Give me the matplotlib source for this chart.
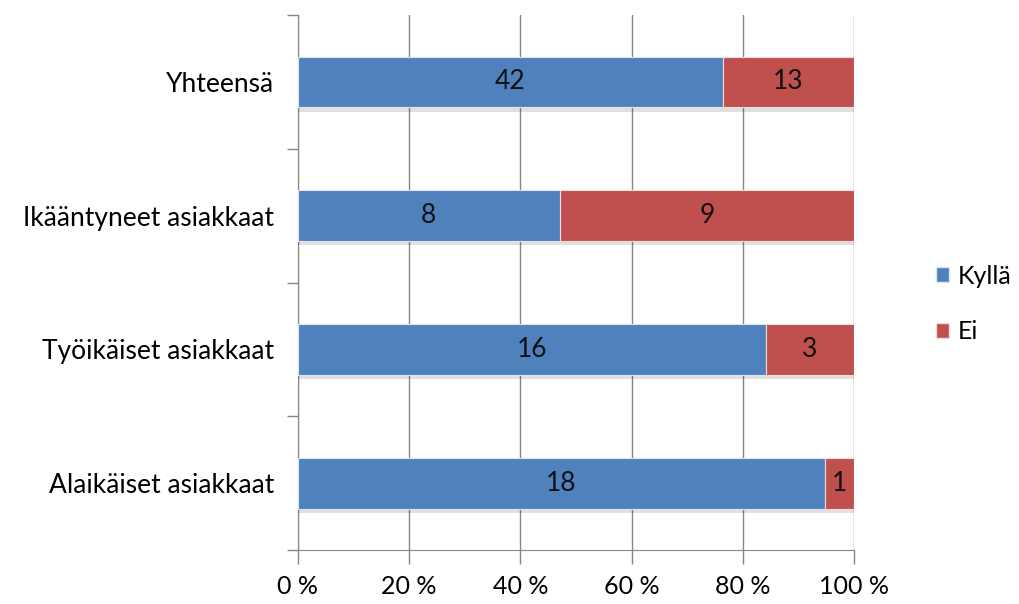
import matplotlib.pyplot as plt
import matplotlib.patheffects as pe
from matplotlib.patches import Patch
import numpy as np

categories = ['Alaikäiset asiakkaat', 'Työikäiset asiakkaat', 'Ikääntyneet asiakkaat', 'Yhteensä']
kylla = [18, 16, 8, 42]
ei = [1, 3, 9, 13]
series_names = ['Kyllä', 'Ei']
tick_labels = ['0 %', '20 %', '40 %', '60 %', '80 %', '100 %']

blue = '#4F81BD'
red = '#C0504D'

plt.rcParams['font.family'] = ['Lato', 'DejaVu Sans']

fig = plt.figure(figsize=(10.19, 6.04), dpi=100)
ax = fig.add_axes([0.2924, 0.0894, 0.5456, 0.8856])

k = np.array(kylla, dtype=float)
e = np.array(ei, dtype=float)
tot = k + e
kp = k / tot * 100
ep = e / tot * 100
y = np.arange(len(categories))

shadow = [pe.SimplePatchShadow(offset=(0, -3), shadow_rgbFace='#000000', alpha=0.12), pe.Normal()]
b1 = ax.barh(y, kp, height=0.38, color=blue, edgecolor='#dce6f2', linewidth=0.8, zorder=3)
b2 = ax.barh(y, ep, left=kp, height=0.38, color=red, edgecolor='#f2dcdb', linewidth=0.8, zorder=3)
for b in list(b1) + list(b2):
    b.set_path_effects(shadow)

for i in range(len(categories)):
    ax.text(kp[i] / 2, y[i], str(kylla[i]), ha='center', va='center', fontsize=19, color='#111111', zorder=4)
    ax.text(kp[i] + ep[i] / 2, y[i], str(ei[i]), ha='center', va='center', fontsize=19, color='#111111', zorder=4)

ax.set_xlim(0, 100)
ax.set_ylim(-0.5, len(categories) - 0.5)
ax.set_xticks(np.arange(0, 101, 20))
ax.set_xticklabels(tick_labels, fontsize=18)
ax.set_yticks(y)
ax.set_yticklabels(categories, fontsize=19)
ax.set_yticks(np.arange(-0.5, len(categories), 1), minor=True)
ax.tick_params(axis='y', which='major', length=0, pad=17)
ax.tick_params(axis='y', which='minor', length=8, color='#868686', width=1)
ax.tick_params(axis='x', length=10, color='#868686', width=1, pad=8)
ax.grid(axis='x', color='#868686', linewidth=1, zorder=0)

for s in ['top', 'right']:
    ax.spines[s].set_visible(False)
ax.spines['left'].set_color('#868686')
ax.spines['bottom'].set_color('#868686')

handles = [Patch(facecolor=blue, edgecolor='#dce6f2'), Patch(facecolor=red, edgecolor='#f2dcdb')]
fig.legend(handles, series_names, loc='center left', bbox_to_anchor=(0.896, 0.497), frameon=False,
           fontsize=18, handlelength=0.55, handleheight=0.55, handletextpad=0.35, labelspacing=1.3)

fig.savefig('out.png', dpi=100)
